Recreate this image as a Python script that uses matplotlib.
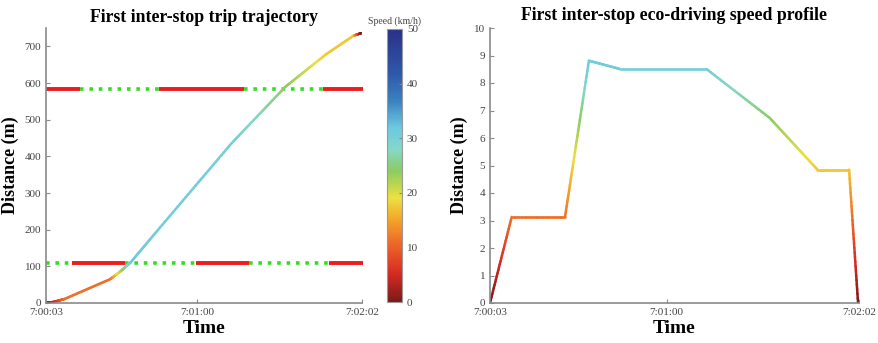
import numpy as np
import matplotlib
matplotlib.use("Agg")
import matplotlib.pyplot as plt
from matplotlib.collections import LineCollection
from matplotlib.colors import Normalize, LinearSegmentedColormap

plt.rcParams['font.family'] = ['Liberation Serif', 'DejaVu Serif']

# time in seconds after 7:00:03
tick_pos = [0, 57, 119]
tick_labels = ['7:00:03', '7:01:00', '7:02:02']

# eco-driving speed profile (m/s)
prof_t = [0, 7.0, 24.2, 31.9, 41.9, 69.8, 90.2, 105.6, 115.8, 118.7]
prof_v = [0, 3.13, 3.13, 8.81, 8.51, 8.51, 6.73, 4.85, 4.85, 0]

# trajectory (distance in m), same times
traj_t = [0, 3.0, 7.0, 24.2, 28.0, 31.9, 41.9, 69.8, 90.2, 105.6, 115.8, 118.7]
traj_d = [0, 3, 11, 65, 86, 111, 197, 435, 590, 679, 729, 736]
traj_v = [0, 1.3, 3.13, 3.13, 5.9, 8.81, 8.51, 8.51, 6.73, 4.85, 4.85, 0]

# signal phases (start, end, state) for the two intersections
sig_upper_y = 585
sig_upper = [(0, 12.9, 'r'), (12.9, 42.4, 'g'), (42.4, 74.7, 'r'),
             (74.7, 104.4, 'g'), (104.4, 119.5, 'r')]
sig_lower_y = 110
sig_lower = [(0, 9.8, 'g'), (9.8, 29.9, 'r'), (29.9, 56.5, 'g'),
             (56.5, 76.5, 'r'), (76.5, 106.4, 'g'), (106.4, 119.5, 'r')]

# soft jet-like colour scale as it looks in the figure (0 -> 50 km/h)
cmap = LinearSegmentedColormap.from_list('soft_jet', [
    (0.00, '#7a1a1a'), (0.10, '#d42a22'), (0.20, '#ec6028'),
    (0.30, '#f3a428'), (0.38, '#ece040'), (0.48, '#8ccc60'),
    (0.56, '#84d8c8'), (0.64, '#6cc8e0'), (0.74, '#3a80c0'),
    (0.84, '#2e58a8'), (1.00, '#2a3088')])
norm = Normalize(0, 50)


def gradient_line(ax, t, y, v_kmh, lw=1.8):
    # split each segment into small pieces so the colour changes smoothly
    xs, ys, cs = [], [], []
    for i in range(len(t) - 1):
        k = np.linspace(0, 1, 30)
        xs.append(t[i] + (t[i + 1] - t[i]) * k)
        ys.append(y[i] + (y[i + 1] - y[i]) * k)
        cs.append(v_kmh[i] + (v_kmh[i + 1] - v_kmh[i]) * k)
    xs = np.concatenate(xs)
    ys = np.concatenate(ys)
    cs = np.concatenate(cs)
    pts = np.column_stack([xs, ys]).reshape(-1, 1, 2)
    segs = np.concatenate([pts[:-1], pts[1:]], axis=1)
    lc = LineCollection(segs, cmap=cmap, norm=norm, linewidth=lw,
                        capstyle='round', joinstyle='round')
    lc.set_array((cs[:-1] + cs[1:]) / 2)
    ax.add_collection(lc)
    return lc


def style_axes(ax):
    for s in ['top', 'right']:
        ax.spines[s].set_visible(False)
    for s in ['left', 'bottom']:
        ax.spines[s].set_color('#8a8a8a')
        ax.spines[s].set_linewidth(1.2)
    ax.tick_params(direction='in', length=3, colors='#8a8a8a',
                   labelcolor='#444444', labelsize=8)
    ax.set_xticks(tick_pos)
    ax.set_xticklabels(tick_labels)
    ax.set_xlim(0, 119)
    ax.set_xlabel('Time', fontsize=14, fontweight='bold', labelpad=2)
    ax.set_ylabel('Distance (m)', fontsize=13, fontweight='bold', labelpad=4)


fig = plt.figure(figsize=(8.79, 3.43), dpi=100)
ax1 = fig.add_axes([46 / 879, 40 / 343, 316 / 879, 275 / 343])
cax = fig.add_axes([387 / 879, 41 / 343, 15 / 879, 273 / 343])
ax2 = fig.add_axes([490 / 879, 40 / 343, 369 / 879, 275 / 343])

# left: trajectory with signal timings
for y0, phases in [(sig_upper_y, sig_upper), (sig_lower_y, sig_lower)]:
    for a, b, st in phases:
        if st == 'r':
            ax1.plot([a, b], [y0, y0], color='#ee1c1c', lw=2.8,
                     solid_capstyle='butt', clip_on=False)
        else:
            ax1.plot([a, b], [y0, y0], color='#33dd22', lw=2.6,
                     linestyle=(0, (1, 1.6)), clip_on=False)

lc = gradient_line(ax1, traj_t, traj_d, np.array(traj_v) * 3.6)
ax1.set_ylim(0, 750)
ax1.set_yticks(np.arange(0, 701, 100))
style_axes(ax1)
ax1.set_title('First inter-stop trip trajectory', fontsize=12.8,
              fontweight='bold', pad=4)

cb = fig.colorbar(lc, cax=cax)
cb.set_ticks([0, 10, 20, 30, 40, 50])
cb.outline.set_edgecolor('#999999')
cb.ax.tick_params(direction='in', length=2, colors='#8a8a8a',
                  labelcolor='#444444', labelsize=8)
cax.set_title('Speed (km/h)', fontsize=7, color='#444444', pad=4)

# right: speed profile
gradient_line(ax2, prof_t, prof_v, np.array(prof_v) * 3.6)
ax2.set_ylim(0, 10)
ax2.set_yticks(np.arange(0, 11, 1))
style_axes(ax2)
ax2.set_title('First inter-stop eco-driving speed profile', fontsize=12.8,
              fontweight='bold', pad=6)

fig.savefig('out.png', dpi=100)
